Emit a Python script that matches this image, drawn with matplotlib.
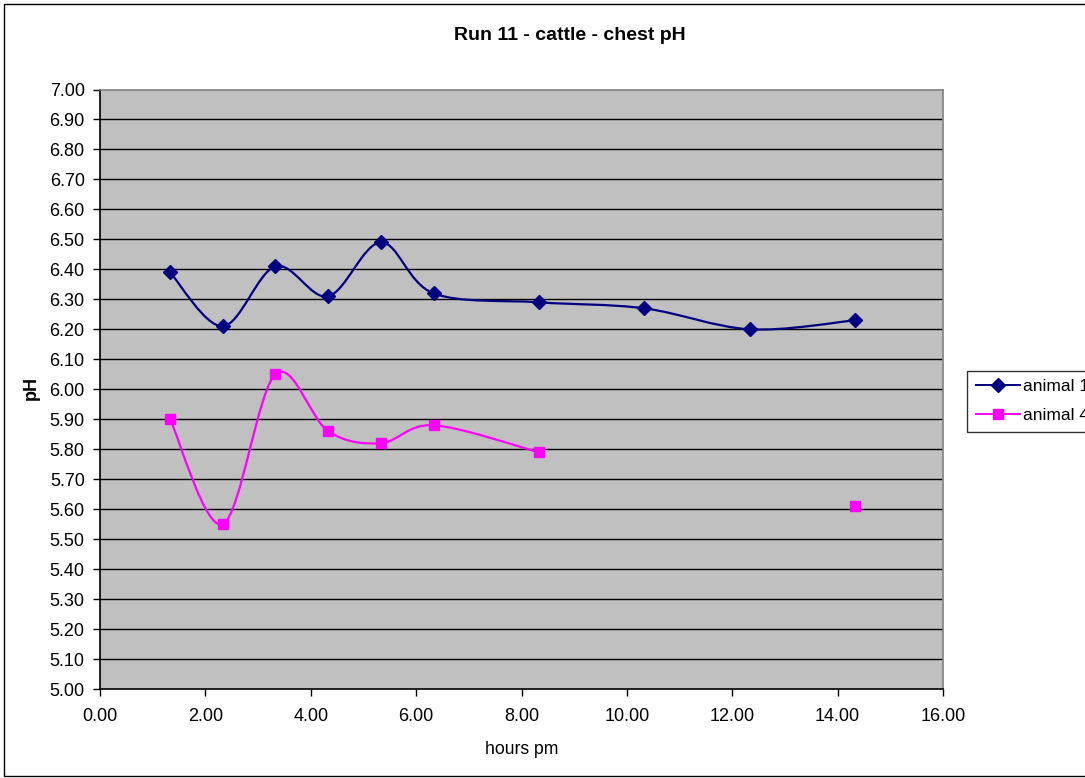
import numpy as np
import matplotlib
matplotlib.use("Agg")
import matplotlib.pyplot as plt
from matplotlib.path import Path
from matplotlib.patches import PathPatch, Rectangle
from matplotlib.lines import Line2D

plt.rcParams['font.family'] = ['Liberation Sans', 'DejaVu Sans']

hours = [1.33, 2.33, 3.33, 4.33, 5.33, 6.33, 8.33, 10.33, 12.33, 14.33]
animal_1 = [6.39, 6.21, 6.41, 6.31, 6.49, 6.32, 6.29, 6.27, 6.20, 6.23]
animal_4 = [5.90, 5.55, 6.05, 5.86, 5.82, 5.88, 5.79, None, None, 5.61]
series_names = ["animal 1", "animal 4"]
y_ticks = [round(5.0 + 0.1 * i, 2) for i in range(21)]
x_ticks = [0, 2, 4, 6, 8, 10, 12, 14, 16]

W, H = 1085, 778
fig = plt.figure(figsize=(W / 100, H / 100), dpi=100)
fig.patch.set_facecolor("white")

def px(x0, y0, x1, y1):
    return [x0 / W, 1 - y1 / H, (x1 - x0) / W, (y1 - y0) / H]

ax = fig.add_axes(px(100, 89.5, 943, 689))
ax.set_facecolor("#C0C0C0")
ax.set_xlim(0, 16)
ax.set_ylim(5.0, 7.0)
ax.set_yticks(y_ticks)
ax.set_yticklabels([f"{v:.2f}" for v in y_ticks])
ax.set_xticks(x_ticks)
ax.set_xticklabels([f"{v:.2f}" for v in x_ticks])
ax.tick_params(axis="both", labelsize=13, length=5, width=1, direction="out", colors="black")
ax.tick_params(axis="x", pad=9)
ax.tick_params(axis="y", pad=6)
for y in y_ticks[1:-1]:
    ax.axhline(y, color="black", lw=1.0, zorder=1)
ax.spines["left"].set_color("black")
ax.spines["bottom"].set_color("black")
ax.spines["top"].set_color("#808080")
ax.spines["right"].set_color("#808080")
for s in ax.spines.values():
    s.set_linewidth(1.2)


def smooth_segments(xs, ys):
    """Excel-like smoothed line: cubic Bezier through consecutive non-missing points."""
    runs, cur = [], []
    for x, y in zip(xs, ys):
        if y is None:
            if cur:
                runs.append(cur)
            cur = []
        else:
            cur.append((x, y))
    if cur:
        runs.append(cur)
    paths = []
    for run in runs:
        if len(run) < 2:
            continue
        P = np.array(run, dtype=float)
        verts = [P[0]]
        codes = [Path.MOVETO]
        n = len(P)
        for i in range(n - 1):
            p0 = P[i - 1] if i > 0 else P[i]
            p1, p2 = P[i], P[i + 1]
            p3 = P[i + 2] if i + 2 < n else P[i + 1]
            c1 = p1 + (p2 - p0) / 6.0
            c2 = p2 - (p3 - p1) / 6.0
            verts += [c1, c2, p2]
            codes += [Path.CURVE4] * 3
        paths.append(Path(verts, codes))
    return paths


styles = [
    dict(color="#000080", marker="D", ms=7.5),
    dict(color="#FF00FF", marker="s", ms=7.5),
]
for ys, st in zip([animal_1, animal_4], styles):
    for p in smooth_segments(hours, ys):
        ax.add_patch(PathPatch(p, facecolor="none", edgecolor=st["color"], lw=1.6, zorder=3))
    xv = [x for x, y in zip(hours, ys) if y is not None]
    yv = [y for y in ys if y is not None]
    ax.plot(xv, yv, linestyle="none", marker=st["marker"], ms=st["ms"],
            color=st["color"], markeredgecolor=st["color"], zorder=4, clip_on=False)

fig.text(569.5 / W, 1 - 36 / H, "Run 11 - cattle - chest pH", ha="center", va="center",
         fontsize=14, fontweight="bold")
fig.text(31 / W, 1 - 388 / H, "pH", ha="center", va="center", rotation=90,
         fontsize=13, fontweight="bold")
fig.text(522 / W, 1 - 749 / H, "hours pm", ha="center", va="center", fontsize=12.7)

handles = [Line2D([], [], color=st["color"], marker=st["marker"], ms=st["ms"] * 0.9, lw=1.4)
           for st in styles]
leg = fig.legend(handles, series_names, loc="upper left",
                 bbox_to_anchor=(967 / W, 1 - 370.5 / H), frameon=True, fancybox=False,
                 edgecolor="black", fontsize=12.5, handlelength=2.55, borderpad=0.5,
                 labelspacing=0.78, handletextpad=0.15, borderaxespad=0)
leg.get_frame().set_linewidth(1.0)

fig.add_artist(Rectangle((3.5 / W, 2.5 / H), 1.2, (H - 6) / H, transform=fig.transFigure,
                         fill=False, edgecolor="black", lw=1.0))

fig.savefig("out.png", dpi=100)
